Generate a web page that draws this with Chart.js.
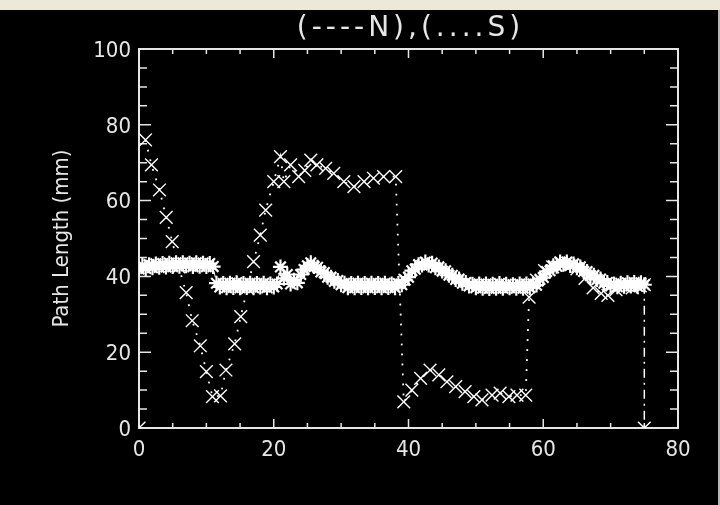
<!DOCTYPE html>
<html>
<head>
<meta charset="utf-8">
<script src="https://cdn.jsdelivr.net/npm/chart.js@4.4.0/dist/chart.umd.min.js"></script>
<style>
html, body { margin: 0; padding: 0; width: 720px; height: 505px; overflow: hidden; background: #ece9d8; }
#frame { position: absolute; left: 0; top: 10px; width: 718px; height: 495px; background: #000; border-right: 2px solid #b8b8b8; }
#wrap { position: absolute; left: 0; top: 10px; width: 720px; height: 495px; }
</style>
</head>
<body>
<div id="frame"></div>
<div id="wrap"><canvas id="c" width="720" height="495"></canvas></div>
<script>
// N series (asterisks, dashed)
const nX = [
  0, 0.5, 1, 1.5, 2, 2.5, 3, 3.5, 4, 4.5, 5, 5.5, 6, 6.5, 7, 7.5, 8, 8.5, 9, 9.5,
  10, 10.5, 11, 11.5, 12, 12.5, 13, 13.5, 14, 14.5, 15, 15.5, 16, 16.5, 17, 17.5, 18, 18.5, 19, 19.5,
  20, 20.5, 21, 21.5, 22, 22.5, 23, 23.5, 24, 24.5, 25, 25.5, 26, 26.5, 27, 27.5, 28, 28.5, 29, 29.5,
  30, 30.5, 31, 31.5, 32, 32.5, 33, 33.5, 34, 34.5, 35, 35.5, 36, 36.5, 37, 37.5, 38, 38.5, 39, 39.5,
  40, 40.5, 41, 41.5, 42, 42.5, 43, 43.5, 44, 44.5, 45, 45.5, 46, 46.5, 47, 47.5, 48, 48.5, 49, 49.5,
  50, 50.5, 51, 51.5, 52, 52.5, 53, 53.5, 54, 54.5, 55, 55.5, 56, 56.5, 57, 57.5, 58, 58.5, 59, 59.5,
  60, 60.5, 61, 61.5, 62, 62.5, 63, 63.5, 64, 64.5, 65, 65.5, 66, 66.5, 67, 67.5, 68, 68.5, 69, 69.5,
  70, 70.5, 71, 71.5, 72, 72.5, 73, 73.5, 74, 74.5, 75
];
const nY = [
  42.0, 42.9, 42.1, 43.1, 42.3, 43.3, 42.4, 43.4, 42.5, 43.5, 42.6, 43.6, 42.7, 43.6, 42.8, 43.5, 42.6, 43.6, 42.7, 43.5,
  42.6, 43.4, 42.6, 38.2, 37.2, 38.1, 37.0, 38.2, 37.1, 38.3, 37.0, 38.1, 37.1, 38.2, 37.0, 38.1, 37.2, 38.2, 37.0, 38.0,
  37.2, 38.0, 42.5, 39.5, 40.5, 38.0, 39.0, 38.3, 40.5, 41.8, 42.8, 43.6, 42.6, 42.4, 41.2, 41.0, 39.8, 39.8, 38.7, 38.9,
  37.8, 38.2, 37.0, 38.1, 37.0, 38.2, 37.1, 38.1, 37.0, 38.2, 37.1, 38.1, 37.0, 38.2, 37.1, 38.0, 37.0, 38.1, 37.8, 39.0,
  39.8, 41.5, 41.9, 43.1, 43.0, 43.8, 43.0, 43.5, 42.3, 42.5, 41.4, 41.5, 40.3, 40.3, 39.2, 39.3, 38.2, 38.4, 37.5, 37.9,
  37.0, 38.0, 36.9, 38.0, 36.8, 37.9, 36.9, 38.1, 36.9, 37.9, 37.0, 37.8, 36.9, 38.0, 36.9, 38.0, 37.0, 38.0, 37.7, 39.2,
  39.7, 41.3, 41.5, 42.8, 42.7, 43.8, 43.2, 43.8, 42.9, 43.3, 42.3, 42.5, 41.3, 41.3, 40.2, 40.3, 39.2, 39.3, 38.2, 38.4,
  37.5, 38.0, 37.3, 38.2, 37.4, 38.3, 37.5, 38.4, 37.4, 38.3, 37.8
];

// S series (crosses, dotted)
const sX = [
  0.96, 1.85, 3.04, 4.04, 4.93, 5.9, 7.0, 7.9, 9.1, 10.0, 10.9, 12.1, 12.9, 14.2, 15.1, 16.1, 17.0, 18.0, 18.8, 20.0,
  21.0, 21.5, 22.5, 23.7, 24.6, 25.5, 26.4, 27.7, 28.9, 30.4, 31.9, 33.4, 34.8, 36.3, 38.1,
  39.3, 40.5, 41.8, 43.2, 44.5, 45.7, 47.0, 48.4, 49.7, 50.9, 52.4, 53.6, 54.9, 56.1, 57.4,
  57.9, 59.0, 60.2, 61.4, 62.6, 63.8, 65.0, 66.2, 67.4, 68.6, 69.6, 70.8, 72.0, 73.2, 74.4, 75.0
];
const sY = [
  76.0, 69.4, 62.8, 55.6, 49.2, 42.5, 35.7, 28.3, 21.7, 14.9, 8.3, 8.5, 15.3, 22.2, 29.4, 37.0, 43.9, 50.9, 57.5, 65.0,
  71.6, 65.0, 69.4, 66.3, 68.0, 70.7, 69.4, 68.5, 67.2, 65.0, 63.7, 65.0, 65.9, 66.3, 66.3,
  6.9, 10.0, 13.1, 15.3, 14.0, 12.2, 10.9, 9.6, 8.3, 7.4, 8.7, 9.2, 8.3, 8.7, 8.7,
  34.5, 39.0, 41.5, 42.5, 43.5, 43.0, 42.0, 39.5, 37.0, 35.5, 35.0, 36.5, 37.5, 37.0, 37.5, 37.8
];

// dash-dot segment and the stray corner point
const eX = [0, 37.5, 75, 75];
const eY = [0, null, 37.8, 0];

const xTicks = [0, 20, 40, 60, 80];
const yTicks = [0, 20, 40, 60, 80, 100];
const titleText = '(----N),(....S)';

const ink = '#e6e6e6';
const face = '"DejaVu Sans Condensed", "DejaVu Sans", sans-serif';

function pairs(xs, ys) {
  return xs.map((v, i) => ({ x: v, y: ys[i] }));
}

// frame + inward ticks on all four sides, and the spaced-out title
const idlAxes = {
  id: 'idlAxes',
  beforeDatasetsDraw(chart) {
    const { ctx, chartArea: a, scales: { x, y } } = chart;
    ctx.save();
    ctx.strokeStyle = ink;
    ctx.lineWidth = 2;
    ctx.strokeRect(a.left, a.top, a.right - a.left, a.bottom - a.top);
    ctx.lineWidth = 1.5;
    ctx.beginPath();
    x.ticks.forEach(t => {
      const px = x.getPixelForValue(t.value);
      const len = xTicks.includes(t.value) ? 9 : 5;
      ctx.moveTo(px, a.bottom); ctx.lineTo(px, a.bottom - len);
      ctx.moveTo(px, a.top); ctx.lineTo(px, a.top + len);
    });
    y.ticks.forEach(t => {
      const py = y.getPixelForValue(t.value);
      const len = yTicks.includes(t.value) ? 12 : 8;
      ctx.moveTo(a.left, py); ctx.lineTo(a.left + len, py);
      ctx.moveTo(a.right, py); ctx.lineTo(a.right - len, py);
    });
    ctx.stroke();

    ctx.fillStyle = ink;
    ctx.font = '28px "DejaVu Sans", sans-serif';
    ctx.letterSpacing = '4px';
    ctx.textAlign = 'center';
    ctx.textBaseline = 'middle';
    ctx.fillText(titleText, (a.left + a.right) / 2 + 2, 19);
    ctx.restore();
  }
};

new Chart(document.getElementById('c'), {
  type: 'scatter',
  data: {
    datasets: [
      {
        label: 'N',
        data: pairs(nX, nY),
        showLine: true,
        borderColor: '#fff',
        borderWidth: 1,
        borderDash: [6, 4],
        pointStyle: 'star',
        pointRadius: 7.5,
        pointBorderWidth: 2.2,
        pointBorderColor: '#fff',
        clip: 0
      },
      {
        label: 'S',
        data: pairs(sX, sY),
        showLine: true,
        borderColor: '#fff',
        borderWidth: 1.8,
        borderDash: [1.8, 8.2],
        pointStyle: 'crossRot',
        pointRadius: 9,
        pointBorderWidth: 1.4,
        pointBorderColor: '#fff',
        clip: 0
      },
      {
        label: 'end',
        data: pairs(eX, eY),
        showLine: true,
        spanGaps: false,
        borderColor: '#fff',
        borderWidth: 1.5,
        borderDash: [9, 5, 2, 5],
        pointStyle: 'crossRot',
        pointRadius: c => (c.raw && c.raw.y === 0 ? 9 : 0),
        pointBorderWidth: 1.4,
        pointBorderColor: '#fff',
        clip: 0
      }
    ]
  },
  options: {
    animation: false,
    responsive: false,
    events: [],
    layout: { padding: { left: 0, right: 42, top: 39, bottom: 0 } },
    plugins: {
      legend: { display: false },
      tooltip: { enabled: false },
      title: { display: false }
    },
    scales: {
      x: {
        type: 'linear',
        min: 0,
        max: 80,
        grid: { display: false, drawTicks: false },
        border: { display: false },
        ticks: {
          stepSize: 5,
          autoSkip: false,
          maxRotation: 0,
          padding: 9,
          color: ink,
          font: { family: face, size: 22, lineHeight: 1.2 },
          callback: v => (xTicks.includes(v) ? String(v) : '')
        },
        afterFit: s => { s.height = 77; }
      },
      y: {
        type: 'linear',
        min: 0,
        max: 100,
        grid: { display: false, drawTicks: false },
        border: { display: false },
        ticks: {
          stepSize: 5,
          autoSkip: false,
          padding: 8,
          labelOffset: 2,
          color: ink,
          font: { family: face, size: 22, lineHeight: 1.2 },
          callback: v => (yTicks.includes(v) ? String(v) : '')
        },
        title: {
          display: true,
          text: 'Path Length (mm)',
          color: ink,
          font: { family: face, size: 22, lineHeight: 1.2 },
          padding: { top: 49, bottom: 0 }
        },
        afterFit: s => { s.width = 139; }
      }
    }
  },
  plugins: [idlAxes]
});
</script>
</body>
</html>
